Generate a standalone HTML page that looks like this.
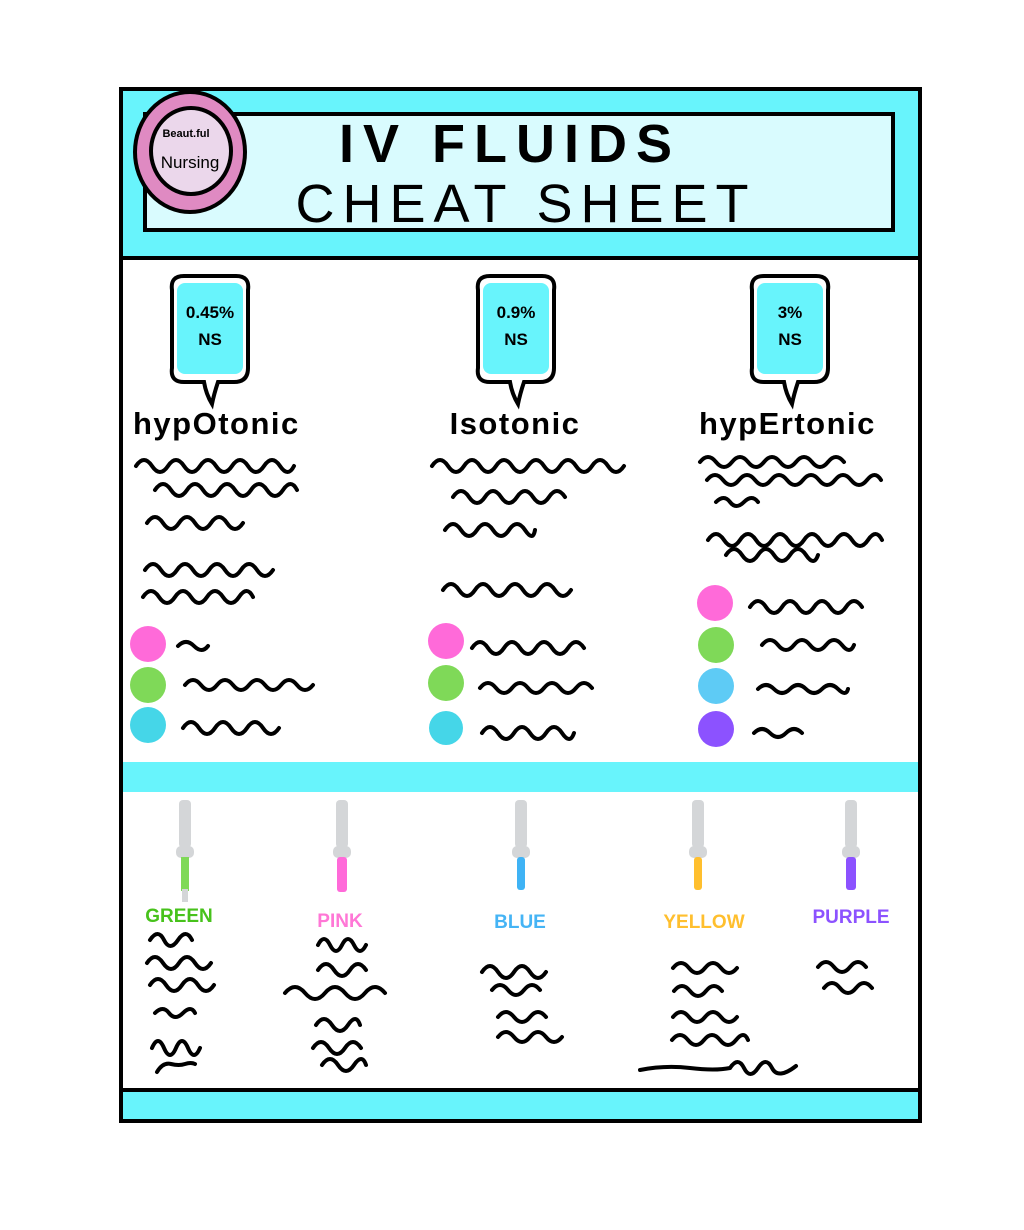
<!DOCTYPE html>
<html><head><meta charset="utf-8"><style>
html,body{margin:0;padding:0;background:#fff;width:1024px;height:1230px;overflow:hidden}
svg{display:block}
text{font-family:"Liberation Sans","DejaVu Sans",sans-serif}
</style></head><body>
<svg width="1024" height="1230" viewBox="0 0 1024 1230">
<defs>
<g id="bub">
<path d="M -38 -48 Q -40 -62 -26 -62 L 26 -62 Q 40 -62 38 -48 L 38 30 Q 38 44 24 44 L 8 44 Q 4 56 2 66 Q -4 56 -6 44 L -26 44 Q -40 44 -38 30 Z" fill="#fff" stroke="#000" stroke-width="4"/>
<rect x="-33" y="-55" width="66" height="91" rx="8" fill="#68f4fc"/>
</g>
</defs>
<rect x="121" y="89" width="799" height="1032" fill="#fff" stroke="#000" stroke-width="4"/>
<rect x="123" y="91" width="795" height="166" fill="#68f4fc"/>
<line x1="121" y1="258" x2="920" y2="258" stroke="#000" stroke-width="4"/>
<rect x="145" y="114" width="748" height="116" fill="#d9fbfe" stroke="#000" stroke-width="4"/>
<ellipse cx="190" cy="152" rx="55" ry="60" fill="#df8ac2" stroke="#000" stroke-width="4"/>
<ellipse cx="191" cy="151" rx="40" ry="43" fill="#ebd7eb" stroke="#000" stroke-width="4"/>
<text x="186" y="137" font-size="11" text-anchor="middle" font-family="Liberation Serif,serif" font-weight="bold">Beaut.ful</text>
<text x="190" y="168" font-size="17" text-anchor="middle" font-family="Liberation Serif,serif">Nursing</text>
<text x="510" y="162" font-size="54" font-weight="bold" text-anchor="middle" letter-spacing="9">IV FLUIDS</text>
<text x="526" y="222" font-size="54" text-anchor="middle" letter-spacing="8">CHEAT SHEET</text>
<rect x="123" y="762" width="795" height="30" fill="#68f4fc"/>
<rect x="123" y="1091" width="795" height="28" fill="#68f4fc"/>
<line x1="121" y1="1090" x2="920" y2="1090" stroke="#000" stroke-width="4"/>
<use href="#bub" transform="translate(210,338)"/>
<use href="#bub" transform="translate(516,338)"/>
<use href="#bub" transform="translate(790,338)"/>
<g font-weight="bold" font-size="17" text-anchor="middle">
<text x="210" y="318">0.45%</text><text x="210" y="345">NS</text>
<text x="516" y="318">0.9%</text><text x="516" y="345">NS</text>
<text x="790" y="318">3%</text><text x="790" y="345">NS</text>
</g>
<g font-weight="bold" font-size="31" letter-spacing="1.5">
<text x="133" y="434">hypOtonic</text>
<text x="515" y="434" text-anchor="middle">Isotonic</text>
<text x="699" y="434">hypErtonic</text>
</g>
<g>
<circle cx="148" cy="644" r="18" fill="#ff6ad9"/><circle cx="148" cy="685" r="18" fill="#7fd958"/><circle cx="148" cy="725" r="18" fill="#45d6e8"/>
<circle cx="446" cy="641" r="18" fill="#ff6ad9"/><circle cx="446" cy="683" r="18" fill="#7fd958"/><circle cx="446" cy="728" r="17" fill="#45d6e8"/>
<circle cx="715" cy="603" r="18" fill="#ff6ad9"/><circle cx="716" cy="645" r="18" fill="#7fd958"/><circle cx="716" cy="686" r="18" fill="#5ecbf5"/><circle cx="716" cy="729" r="18" fill="#8c52ff"/>
</g>
<g fill="none" stroke="#000" stroke-width="4" stroke-linecap="round">
<path d="M136 466 q8 -12 16 0 t16 0 t16 0 t16 0 t16 0 t16 0 t16 0 t16 0 t16 0 t14 0"/>
<path d="M155 490 q8 -12 16 0 t16 0 t16 0 t16 0 t16 0 t16 0 t16 0 t16 0 t14 0"/>
<path d="M147 523 q8 -12 16 0 t16 0 t16 0 t16 0 t16 0 t16 0"/>
<path d="M145 570 q8 -12 16 0 t16 0 t16 0 t16 0 t16 0 t16 0 t16 0 t16 0"/>
<path d="M143 597 q8 -12 16 0 t16 0 t16 0 t16 0 t16 0 t16 0 t14 0"/>
<path d="M178 646 q8 -8 16 0 t14 0"/>
<path d="M185 685 q8 -10 16 0 t16 0 t16 0 t16 0 t16 0 t16 0 t16 0 t16 0"/>
<path d="M183 728 q8 -12 16 0 t16 0 t16 0 t16 0 t16 0 t16 0"/>
<path d="M432 466 q8 -12 16 0 t16 0 t16 0 t16 0 t16 0 t16 0 t16 0 t16 0 t16 0 t16 0 t16 0 t16 0"/>
<path d="M453 497 q8 -12 16 0 t16 0 t16 0 t16 0 t16 0 t16 0 t16 0"/>
<path d="M445 530 q8 -12 16 0 t16 0 t16 0 t16 0 t16 0 t10 0"/>
<path d="M443 590 q8 -12 16 0 t16 0 t16 0 t16 0 t16 0 t16 0 t16 0 t16 0"/>
<path d="M472 648 q8 -12 16 0 t16 0 t16 0 t16 0 t16 0 t16 0 t16 0"/>
<path d="M480 688 q8 -10 16 0 t16 0 t16 0 t16 0 t16 0 t16 0 t16 0"/>
<path d="M482 733 q8 -12 16 0 t16 0 t16 0 t16 0 t16 0 t12 0"/>
<path d="M700 462 q8 -10 16 0 t16 0 t16 0 t16 0 t16 0 t16 0 t16 0 t16 0 t16 0"/>
<path d="M707 480 q8 -10 16 0 t16 0 t16 0 t16 0 t16 0 t16 0 t16 0 t16 0 t16 0 t16 0 t14 0"/>
<path d="M716 502 q8 -8 14 0 t14 0 t14 0"/>
<path d="M708 540 q8 -12 16 0 t16 0 t16 0 t16 0 t16 0 t16 0 t16 0 t16 0 t16 0 t16 0 t14 0"/>
<path d="M726 555 q8 -12 16 0 t16 0 t16 0 t16 0 t16 0 t12 0"/>
<path d="M750 607 q8 -12 16 0 t16 0 t16 0 t16 0 t16 0 t16 0 t16 0"/>
<path d="M762 645 q8 -10 16 0 t16 0 t16 0 t16 0 t16 0 t12 0"/>
<path d="M758 689 q8 -8 16 0 t16 0 t16 0 t16 0 t16 0 t10 0"/>
<path d="M754 733 q8 -8 16 0 t16 0 t16 0"/>
<path d="M150 940 q8 -12 14 0 t14 0 t14 0"/>
<path d="M147 963 q8 -12 16 0 t16 0 t16 0 t16 0"/>
<path d="M150 985 q8 -12 16 0 t16 0 t16 0 t16 0"/>
<path d="M155 1013 q8 -8 14 0 t14 0 t12 0"/>
<path d="M152 1048 q6 -14 12 0 t12 0 t12 0 t12 0"/>
<path d="M157 1072 q6 -10 14 -8 t14 0 t10 0"/>
<path d="M318 945 q6 -12 12 0 t12 0 t12 0 t12 0"/>
<path d="M318 970 q8 -12 16 0 t16 0 t16 0"/>
<path d="M285 993 q10 -12 20 0 t20 0 t20 0 t20 0 t20 0"/>
<path d="M316 1025 q8 -12 16 0 t16 0 t12 0"/>
<path d="M313 1048 q8 -12 16 0 t16 0 t16 0"/>
<path d="M322 1065 q8 -12 16 0 t16 0 t12 0"/>
<path d="M482 972 q8 -12 16 0 t16 0 t16 0 t16 0"/>
<path d="M492 990 q8 -10 16 0 t16 0 t16 0"/>
<path d="M498 1017 q8 -10 16 0 t16 0 t16 0"/>
<path d="M498 1037 q8 -10 16 0 t16 0 t16 0 t16 0"/>
<path d="M673 968 q8 -10 16 0 t16 0 t16 0 t16 0"/>
<path d="M674 991 q8 -10 16 0 t16 0 t16 0"/>
<path d="M673 1017 q8 -10 16 0 t16 0 t16 0 t16 0"/>
<path d="M672 1040 q8 -10 16 0 t16 0 t16 0 t16 0 t12 0"/>
<path d="M640 1070 q25 -5 50 -2 t40 0 q8 -12 14 0 t14 0 t14 0 t24 -2"/>
<path d="M818 967 q8 -10 16 0 t16 0 t16 0"/>
<path d="M824 988 q8 -10 16 0 t16 0 t16 0"/>
</g>
<g>
<g transform="translate(185,0)"><rect x="-6" y="800" width="12" height="48" rx="4" fill="#d4d6d8"/><rect x="-9" y="846" width="18" height="12" rx="5" fill="#d4d6d8"/><rect x="-4" y="857" width="8" height="34" fill="#7fd958"/><rect x="-3" y="889" width="6" height="13" fill="#d4d6d8"/></g>
<g transform="translate(342,0)"><rect x="-6" y="800" width="12" height="48" rx="4" fill="#d4d6d8"/><rect x="-9" y="846" width="18" height="12" rx="5" fill="#d4d6d8"/><rect x="-5" y="857" width="10" height="35" rx="3" fill="#ff6ad9"/></g>
<g transform="translate(521,0)"><rect x="-6" y="800" width="12" height="48" rx="4" fill="#d4d6d8"/><rect x="-9" y="846" width="18" height="12" rx="5" fill="#d4d6d8"/><rect x="-4" y="857" width="8" height="33" rx="3" fill="#3fb3f5"/></g>
<g transform="translate(698,0)"><rect x="-6" y="800" width="12" height="48" rx="4" fill="#d4d6d8"/><rect x="-9" y="846" width="18" height="12" rx="5" fill="#d4d6d8"/><rect x="-4" y="857" width="8" height="33" rx="3" fill="#ffbf2e"/></g>
<g transform="translate(851,0)"><rect x="-6" y="800" width="12" height="48" rx="4" fill="#d4d6d8"/><rect x="-9" y="846" width="18" height="12" rx="5" fill="#d4d6d8"/><rect x="-5" y="857" width="10" height="33" rx="3" fill="#8c52ff"/></g>
</g>
<g font-weight="bold" font-size="19" text-anchor="middle">
<text x="179" y="922" fill="#47c21b">GREEN</text>
<text x="340" y="927" fill="#ff77d6">PINK</text>
<text x="520" y="928" fill="#45b4f5">BLUE</text>
<text x="704" y="928" fill="#ffbf2e">YELLOW</text>
<text x="851" y="923" fill="#8c52ff">PURPLE</text>
</g>
</svg>
</body></html>
